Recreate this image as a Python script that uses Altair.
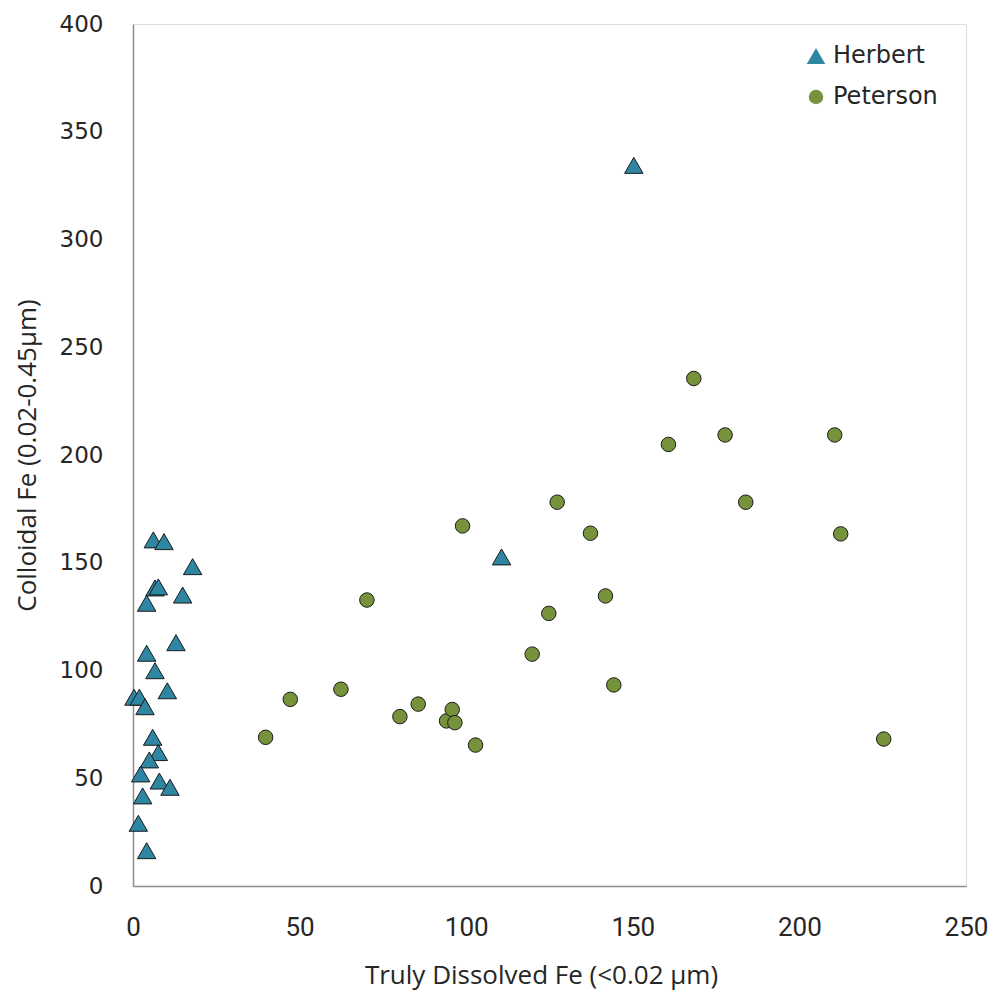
import altair as alt
import pandas as pd

herbert_x = [150.3, 110.6, 6.1, 9.3, 17.9, 6.6, 7.6, 4.1, 14.9, 12.9, 4.1, 6.6, 10.3,
             0.3, 1.9, 3.6, 5.9, 7.6, 4.9, 2.3, 7.9, 11.1, 2.9, 1.6, 4.1]
herbert_y = [334.4, 152.7, 160.6, 159.8, 148.2, 138.3, 138.8, 131.2, 135.0, 112.9, 108.0, 99.9, 90.6,
             87.6, 87.6, 83.2, 69.0, 61.9, 58.5, 52.0, 48.7, 45.8, 41.8, 29.1, 16.4]

peterson_x = [39.8, 47.2, 62.4, 70.2, 80.1, 85.6, 94.1, 95.8, 96.6, 102.8, 98.9, 119.8,
              124.8, 127.3, 137.3, 141.8, 144.3, 160.7, 168.3, 177.7, 183.9, 210.6, 212.4, 225.3]
peterson_y = [69.0, 86.6, 91.3, 132.7, 78.6, 84.4, 76.6, 81.9, 75.8, 65.4, 167.1, 107.6,
              126.5, 178.1, 163.7, 134.6, 93.3, 204.9, 235.5, 209.3, 178.1, 209.3, 163.4, 68.2]

series = ["Herbert", "Peterson"]
x_ticks = [0, 50, 100, 150, 200, 250]
y_ticks = [0, 50, 100, 150, 200, 250, 300, 350, 400]

df = pd.concat([
    pd.DataFrame({"x": herbert_x, "y": herbert_y, "site": "Herbert"}),
    pd.DataFrame({"x": peterson_x, "y": peterson_y, "site": "Peterson"}),
])

legend_spec = alt.Legend(
    title=None, orient="none", legendX=671, legendY=20, padding=0,
    labelFont="DejaVu Sans", labelFontSize=24, labelColor="#262626",
    labelOffset=5, rowPadding=17, symbolStrokeColor="#1a1a1a", symbolStrokeWidth=1,
)

chart = alt.Chart(df).mark_point(filled=True, opacity=1, stroke="#1a1a1a", strokeWidth=1).encode(
    x=alt.X("x:Q", scale=alt.Scale(domain=[0, 250], nice=False),
            axis=alt.Axis(title="Truly Dissolved Fe (<0.02 µm)", values=x_ticks, grid=False,
                          ticks=False, tickSize=0, labelPadding=28, labelFlush=False,
                          labelFont="Roboto",
                          labelFontSize=26, labelColor="#262626", domainColor="#8c8c8c",
                          domainWidth=1.5, titleFont="Open Sans", titleFontSize=26,
                          titleFontWeight="normal", titleColor="#262626",
                          titleX=408, titleY=97, titleBaseline="alphabetic", titleAlign="center")),
    y=alt.Y("y:Q", scale=alt.Scale(domain=[0, 400], nice=False),
            axis=alt.Axis(title="Colloidal Fe (0.02-0.45µm)", values=y_ticks, grid=False,
                          ticks=False, tickSize=0, labelPadding=30, labelFlush=False,
                          labelFont="DejaVu Sans",
                          labelFontSize=23, labelColor="#262626", domainColor="#8c8c8c",
                          domainWidth=1.5, titleFont="Open Sans", titleFontSize=26,
                          titleFontWeight="normal", titleColor="#262626",
                          titleX=-98, titleY=431, titleAngle=270, titleBaseline="alphabetic",
                          titleAlign="center")),
    fill=alt.Fill("site:N", scale=alt.Scale(domain=series, range=["#2E86A3", "#76933C"]),
                  legend=legend_spec),
    shape=alt.Shape("site:N", scale=alt.Scale(domain=series, range=["triangle-up", "circle"]),
                    legend=legend_spec),
    size=alt.Size("site:N", scale=alt.Scale(domain=series, range=[340, 210]),
                  legend=legend_spec),
).properties(
    width=833, height=862,
    autosize=alt.AutoSizeParams(type="none"),
    padding={"left": 125, "top": 16, "right": 23, "bottom": 108},
).configure_view(stroke=None).configure(background="white")

chart.save("out.html", embed_options={"renderer": "svg", "actions": False})
